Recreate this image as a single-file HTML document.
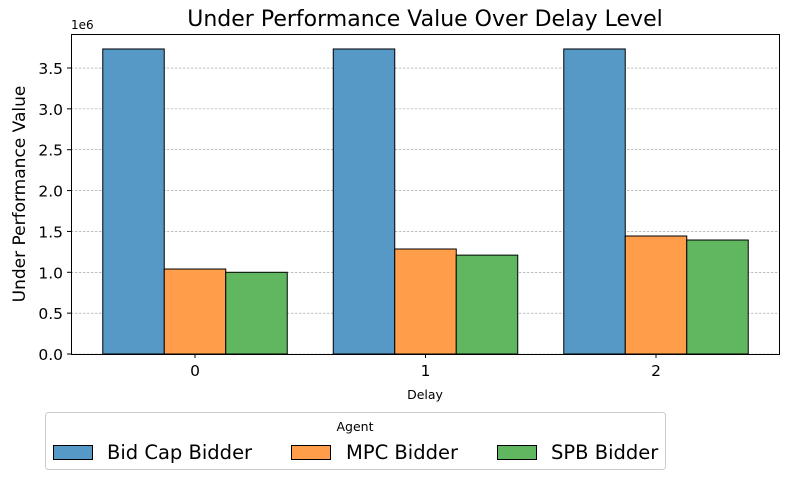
<!DOCTYPE html>
<html><head><meta charset="utf-8"><style>body{margin:0;background:#fff}svg{display:block;font-family:"DejaVu Sans","Liberation Sans",sans-serif}</style></head>
<body>
<svg width="790" height="480" viewBox="0 0 790 480">
<g id="grid"></g><g id="bars"></g><g id="axes"></g>
<text x="425" y="26" font-size="22" text-anchor="middle">Under Performance Value Over Delay Level</text>
<text x="71" y="29" font-size="12">1e6</text>
<text x="425" y="399" font-size="12.5" text-anchor="middle">Delay</text>
<text transform="translate(25,194) rotate(-90)" font-size="17" text-anchor="middle">Under Performance Value</text>
<g>
<rect x="45.5" y="412.5" width="620" height="57" rx="3" fill="#fff" stroke="#ccc"/>
<text x="355" y="431" font-size="12.5" text-anchor="middle">Agent</text>
<g><rect x="53.5" y="445.5" width="39" height="14" fill="#5698c6" stroke="#000"/><text x="107" y="459" font-size="19.5">Bid Cap Bidder</text></g>
<g><rect x="291.5" y="445.5" width="39" height="14" fill="#ff9d4a" stroke="#000"/><text x="346" y="459" font-size="19.5">MPC Bidder</text></g>
<g><rect x="497.5" y="445.5" width="39" height="14" fill="#60b760" stroke="#000"/><text x="551" y="459" font-size="19.5">SPB Bidder</text></g>
</g>
</svg>
<script>
const categories=["0","1","2"];
const bidCap=[3.733,3.733,3.733];
const mpc=[1.04,1.285,1.444];
const spb=[1.0,1.21,1.395];
const yTicks=[0,0.5,1,1.5,2,2.5,3,3.5];
const yTickLabels=["0.0","0.5","1.0","1.5","2.0","2.5","3.0","3.5"];
const NS="http://www.w3.org/2000/svg";
const L=71,R=780,T=34,B=354;
const y=v=>B-v*81.71;
const xc=i=>195+i*230.5;
const bw=61.5;
function mk(tag,attrs,parent,text){const e=document.createElementNS(NS,tag);for(const k in attrs)e.setAttribute(k,attrs[k]);if(text!==undefined)e.textContent=text;document.getElementById(parent).appendChild(e);return e;}
yTicks.forEach((t,i)=>{
 const g=mk('line',{x1:L,x2:R,y1:y(t),y2:y(t),stroke:'#999','stroke-width':0.6,'stroke-dasharray':'2.5,1.5'},'grid');
 
 
 const tk=mk('line',{x1:L-4,x2:L,y1:y(t),y2:y(t),stroke:'#000'},'axes');
 
 
 const lb=mk('text',{x:L-8,y:y(t)+6,'font-size':15.5,'text-anchor':'end'},'axes',yTickLabels[i]);
 
 
});
const series=[[bidCap,'#5698c6','bid-cap'],[mpc,'#ff9d4a','mpc'],[spb,'#60b760','spb']];
categories.forEach((c,i)=>{
 series.forEach((s,j)=>{
  const x0=xc(i)+(j-1.5)*bw;
  const r=mk('rect',{x:x0,y:y(s[0][i]),width:bw,height:B-y(s[0][i]),fill:s[1],stroke:'#000','stroke-width':1},'bars');
  
  
 });
 const tk=mk('line',{x1:xc(i),x2:xc(i),y1:B,y2:B+4,stroke:'#000'},'axes');
 
 
 const lb=mk('text',{x:xc(i),y:B+22,'font-size':15.5,'text-anchor':'middle'},'axes',c);
 
 
});
const f=mk('rect',{x:L+0.5,y:T+0.5,width:R-L-1,height:B-T,fill:'none',stroke:'#000'},'axes');


</script>
</body></html>
